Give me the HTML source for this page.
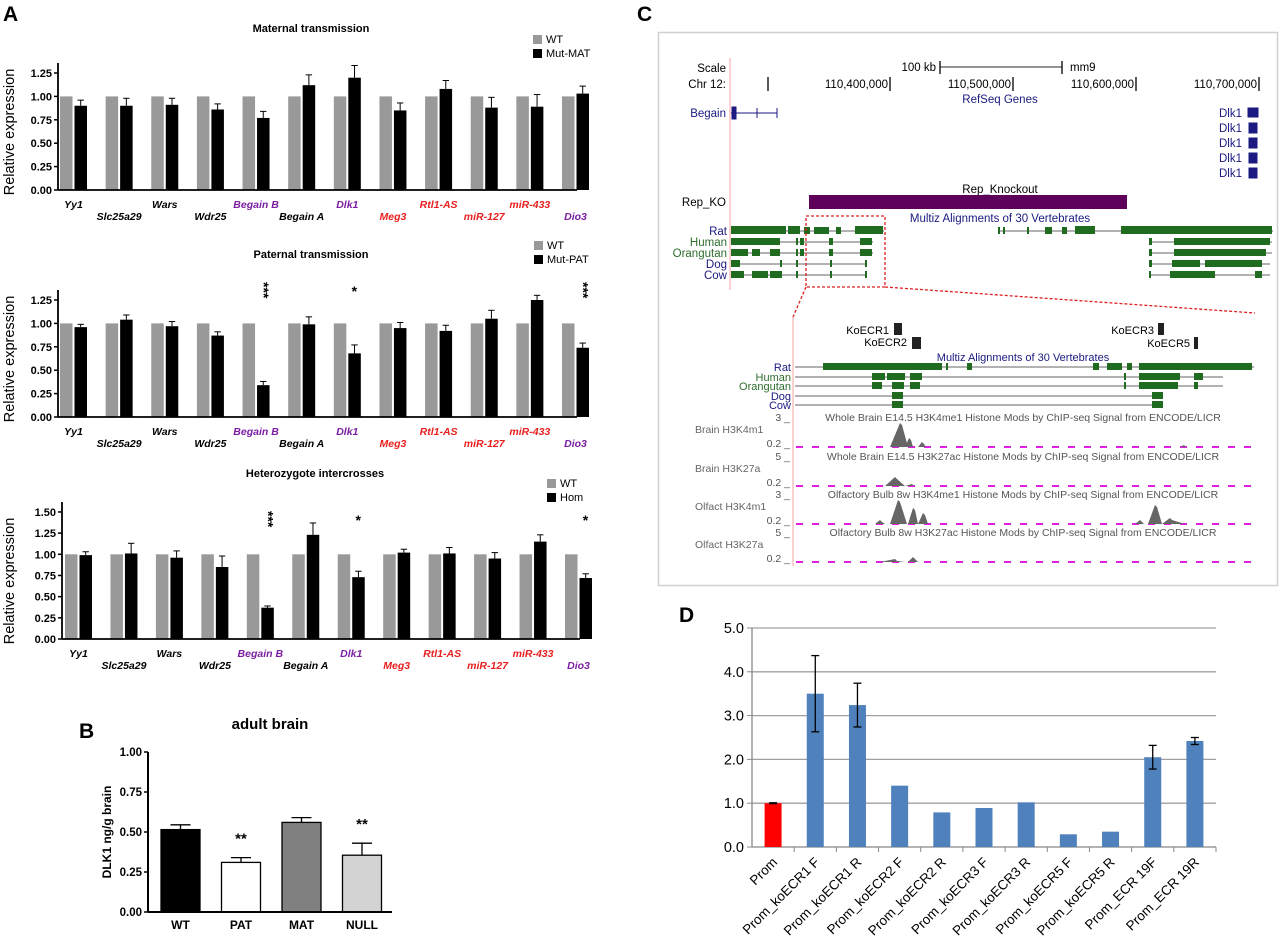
<!DOCTYPE html>
<html><head><meta charset="utf-8"><style>
html,body{margin:0;padding:0;background:#fff;}
svg{display:block;font-family:"Liberation Sans",Arial,sans-serif;}
</style></head><body>
<svg id="fig" width="1280" height="945" viewBox="0 0 1280 945" xmlns="http://www.w3.org/2000/svg">
<g font-weight="bold" font-size="21">
<text x="3" y="21">A</text>
<text x="637" y="21">C</text>
<text x="79" y="738">B</text>
<text x="679" y="622">D</text>
</g>
<g id="panelA"></g>
<g id="panelB"></g>
<g id="panelC">
<rect x="658.5" y="32.5" width="619" height="553" fill="#fff" stroke="#d0d0d0" stroke-width="1.5"/>
<line x1="730" y1="58" x2="730" y2="290" stroke="#f4a0a0"/>
<line x1="793" y1="317" x2="793" y2="566" stroke="#f4a0a0"/>
<g font-size="11.5" fill="#000">
<text x="726" y="72" text-anchor="end">Scale</text>
<text x="726" y="88" text-anchor="end">Chr 12:</text>
<text x="936" y="71" text-anchor="end">100 kb</text>
<text x="1070" y="71">mm9</text>
<text x="888" y="88" text-anchor="end">110,400,000</text>
<text x="1011" y="88" text-anchor="end">110,500,000</text>
<text x="1134" y="88" text-anchor="end">110,600,000</text>
<text x="1257" y="88" text-anchor="end">110,700,000</text>
</g>
<g stroke="#000" stroke-width="1.3">
<line x1="940" y1="67" x2="1062" y2="67" stroke="#555"/><line x1="940" y1="61" x2="940" y2="74"/><line x1="1062" y1="61" x2="1062" y2="74"/>
<line x1="768" y1="77" x2="768" y2="91"/><line x1="890" y1="77" x2="890" y2="91"/><line x1="1013" y1="77" x2="1013" y2="91"/><line x1="1136" y1="77" x2="1136" y2="91"/><line x1="1259" y1="77" x2="1259" y2="91"/>
</g>
<g font-size="11.5" fill="#1a1a80">
<text x="1000" y="103" text-anchor="middle">RefSeq Genes</text>
<text x="726" y="117" text-anchor="end">Begain</text>
<text x="1242" y="117" text-anchor="end">Dlk1</text>
<text x="1242" y="132" text-anchor="end">Dlk1</text>
<text x="1242" y="147" text-anchor="end">Dlk1</text>
<text x="1242" y="162" text-anchor="end">Dlk1</text>
<text x="1242" y="177" text-anchor="end">Dlk1</text>
<text x="1000" y="222" text-anchor="middle">Multiz Alignments of 30 Vertebrates</text>
</g>
<g fill="#1a1a80" stroke="#1a1a80">
<line x1="731" y1="113" x2="777" y2="113"/><rect x="732" y="107" width="4" height="12"/><line x1="757" y1="108" x2="757" y2="118"/><line x1="777" y1="108" x2="777" y2="118"/>
<rect x="1248" y="108" width="10" height="9"/><rect x="1249" y="123" width="8" height="10"/><rect x="1249" y="138" width="8" height="10"/><rect x="1249" y="153" width="8" height="10"/><rect x="1249" y="168" width="8" height="10"/>
</g>
<text x="1000" y="193" text-anchor="middle" font-size="11.5">Rep_Knockout</text>
<text x="726" y="206" text-anchor="end" font-size="11.5">Rep_KO</text>
<rect x="809" y="195" width="318" height="14" fill="#5c005c"/>
<g id="alignTop"></g>
<rect x="806" y="216" width="79" height="71" fill="none" stroke="#e02020" stroke-dasharray="3,2" stroke-width="1.3"/>
<line x1="806" y1="287" x2="793" y2="317" stroke="#e02020" stroke-dasharray="3,2" stroke-width="1.3"/>
<line x1="885" y1="287" x2="1255" y2="313" stroke="#e02020" stroke-dasharray="3,2" stroke-width="1.3"/>
<g font-size="11" fill="#000">
<text x="889" y="334" text-anchor="end">KoECR1</text>
<text x="907" y="346" text-anchor="end">KoECR2</text>
<text x="1154" y="334" text-anchor="end">KoECR3</text>
<text x="1190" y="347" text-anchor="end">KoECR5</text>
</g>
<g fill="#222">
<rect x="894" y="323" width="8" height="12"/><rect x="912" y="337" width="9" height="12"/><rect x="1158" y="323" width="6" height="12"/><rect x="1194" y="337" width="4" height="12"/>
</g>
<text x="1023" y="361" text-anchor="middle" font-size="11" fill="#1a1a80">Multiz Alignments of 30 Vertebrates</text>
<g id="alignZoom"></g>
<g id="histone"></g>
</g>
<g id="panelD"></g>
</svg>
<script>
var NS='http://www.w3.org/2000/svg';
function mk(p,tag,at,txt){var e=document.createElementNS(NS,tag);for(var k in at)e.setAttribute(k,at[k]);if(txt!==undefined)e.textContent=txt;p.appendChild(e);return e;}

// ===== Panel A data =====
var genes=['Yy1','Slc25a29','Wars','Wdr25','Begain B','Begain A','Dlk1','Meg3','Rtl1-AS','miR-127','miR-433','Dio3'];
var geneColors=['#000','#000','#000','#000','#7b1fa2','#000','#7b1fa2','#e8201f','#e8201f','#e8201f','#e8201f','#7b1fa2'];
var wtValues=[1,1,1,1,1,1,1,1,1,1,1,1];
var matValues=[0.90,0.90,0.91,0.86,0.77,1.12,1.20,0.85,1.08,0.88,0.89,1.03];
var matErr=[0.06,0.08,0.07,0.06,0.07,0.11,0.13,0.08,0.09,0.11,0.13,0.08];
var patValues=[0.96,1.04,0.97,0.87,0.34,0.99,0.68,0.95,0.92,1.05,1.25,0.74];
var patErr=[0.03,0.05,0.05,0.04,0.04,0.08,0.09,0.06,0.06,0.09,0.05,0.05];
var patStars=['','','','','***','','*','','','','','***'];
var homValues=[0.99,1.01,0.96,0.85,0.37,1.23,0.73,1.02,1.01,0.95,1.15,0.72];
var homErr=[0.04,0.12,0.08,0.13,0.02,0.14,0.07,0.04,0.07,0.07,0.08,0.05];
var homStars=['','','','','***','','*','','','','','*'];
var ticksA=[0,0.25,0.5,0.75,1.0,1.25];
var ticksA3=[0,0.25,0.5,0.75,1.0,1.25,1.5];

function drawA(c){
  var g=mk(document.getElementById('panelA'),'g',{});
  
  
  var y=function(v){return c.base-v*c.unit;};
  var pitch=(c.xEnd-c.x0)/11;
  mk(g,'text',{x:c.titleX,y:c.titleY,'text-anchor':'middle','font-size':11,'font-weight':'bold'},c.title);
  // legend
  var lg=mk(g,'g',{});
  
  
  mk(lg,'rect',{x:c.legX,y:c.legY-8,width:9,height:9,fill:'#999'});
  mk(lg,'text',{x:c.legX+13,y:c.legY,'font-size':11},'WT');
  mk(lg,'rect',{x:c.legX,y:c.legY+6,width:9,height:9,fill:'#000'});
  mk(lg,'text',{x:c.legX+13,y:c.legY+14,'font-size':11},c.mutName);
  // bars
  for(var i=0;i<genes.length;i++){
    var x=c.x0+i*pitch;
    var b=mk(g,'rect',{x:x,y:y(wtValues[i]),width:12.5,height:c.base-y(wtValues[i]),fill:'#999'});
    
    
    var m=c.vals[i], e=c.errs[i];
    var xm=x+14.5;
    mk(g,'line',{x1:xm+6.2,y1:y(m),x2:xm+6.2,y2:y(m+e),stroke:'#000','stroke-width':1});
    mk(g,'line',{x1:xm+3,y1:y(m+e),x2:xm+9.4,y2:y(m+e),stroke:'#000','stroke-width':1});
    var b2=mk(g,'rect',{x:xm,y:y(m),width:12.5,height:c.base-y(m),fill:'#000'});
    
    
    if(c.stars&&c.stars[i]){
      var s=c.stars[i];
      if(s.length===3){
        var t=mk(g,'text',{x:0,y:0,'font-size':14,'font-weight':'bold',transform:'translate('+(xm+2)+','+(c.starY-10)+') rotate(90)'},s);
      } else mk(g,'text',{x:xm+6,y:c.starY+4,'font-size':14,'font-weight':'bold','text-anchor':'middle'},s);
    }
    var lt=mk(g,'text',{x:x+13.5,y:c.base+(i%2===0?18:30),'text-anchor':'middle','font-size':10.5,'font-weight':'bold','font-style':'italic',fill:geneColors[i]},genes[i]);
    
    
  }
  // axes
  var top=y(c.ticks[c.ticks.length-1])-10;
  mk(g,'line',{x1:c.axisX,y1:top,x2:c.axisX,y2:c.base,stroke:'#000','stroke-width':1.8});
  mk(g,'line',{x1:c.axisX,y1:c.base,x2:c.xEnd+15,y2:c.base,stroke:'#000','stroke-width':1.8});
  for(var k=0;k<c.ticks.length;k++){
    var ty=y(c.ticks[k]);
    mk(g,'line',{x1:c.axisX-4,y1:ty,x2:c.axisX,y2:ty,stroke:'#000','stroke-width':1.5});
    mk(g,'text',{x:c.axisX-6,y:ty+4,'text-anchor':'end','font-size':11,'font-weight':'bold'},c.ticks[k].toFixed(2));
  }
  var yt=mk(g,'text',{x:0,y:0,'text-anchor':'middle','font-size':14.5,transform:'translate(14,'+(c.base-58)+') rotate(-90)'},'Relative expression');
  
  
}
drawA({name:'chart-maternal-transmission',title:'Maternal transmission',titleX:311,titleY:32,legX:533,legY:43,mutName:'Mut-MAT',axisX:58,base:190,unit:93.6,x0:60,xEnd:562,vals:matValues,errs:matErr,ticks:ticksA});
drawA({name:'chart-paternal-transmission',title:'Paternal transmission',titleX:311,titleY:258,legX:534,legY:249,mutName:'Mut-PAT',axisX:58,base:417,unit:93.6,x0:60,xEnd:562,vals:patValues,errs:patErr,ticks:ticksA,stars:patStars,starY:292});
drawA({name:'chart-heterozygote-intercrosses',title:'Heterozygote intercrosses',titleX:315,titleY:477,legX:547,legY:487,mutName:'Hom',axisX:62,base:639,unit:84.7,x0:65,xEnd:565,vals:homValues,errs:homErr,ticks:ticksA3,stars:homStars,starY:521});

// ===== Panel B =====
var bCats=['WT','PAT','MAT','NULL'];
var bValues=[0.515,0.31,0.56,0.355];
var bErr=[0.03,0.03,0.03,0.075];
var bFills=['#000','#fff','#808080','#d3d3d3'];
var bStars=['','**','','**'];
var bTicks=[0,0.25,0.5,0.75,1.0];
(function(){
  var g=document.getElementById('panelB');
  var base=912,unit=160,ax=148;
  var y=function(v){return base-v*unit;};
  mk(g,'text',{x:270,y:729,'text-anchor':'middle','font-size':15,'font-weight':'bold'},'adult brain');
  for(var i=0;i<bCats.length;i++){
    var cx=180.5+i*60.5;
    var v=bValues[i],e=bErr[i];
    mk(g,'line',{x1:cx,y1:y(v),x2:cx,y2:y(v+e),stroke:'#000','stroke-width':1.3});
    mk(g,'line',{x1:cx-10,y1:y(v+e),x2:cx+10,y2:y(v+e),stroke:'#000','stroke-width':1.3});
    var r=mk(g,'rect',{x:cx-19.5,y:y(v),width:39,height:base-y(v),fill:bFills[i],stroke:'#000','stroke-width':1.3});
    
    
    if(bStars[i]) mk(g,'text',{x:cx,y:y(v+e)-14,'text-anchor':'middle','font-size':15,'font-weight':'bold'},bStars[i]);
    mk(g,'text',{x:cx,y:base+17,'text-anchor':'middle','font-size':12,'font-weight':'bold'},bCats[i]);
  }
  mk(g,'line',{x1:ax,y1:y(1),x2:ax,y2:base,stroke:'#000','stroke-width':2});
  mk(g,'line',{x1:ax,y1:base,x2:392,y2:base,stroke:'#000','stroke-width':2});
  for(var k=0;k<bTicks.length;k++){
    var ty=y(bTicks[k]);
    mk(g,'line',{x1:ax-4,y1:ty,x2:ax,y2:ty,stroke:'#000','stroke-width':1.5});
    mk(g,'text',{x:ax-6,y:ty+4,'text-anchor':'end','font-size':11.5,'font-weight':'bold'},bTicks[k].toFixed(2));
  }
  var t=mk(g,'text',{x:0,y:0,'text-anchor':'middle','font-size':12,'font-weight':'bold',transform:'translate(111,832) rotate(-90)'},'DLK1 ng/g brain');
  
  
})();

// ===== Panel D =====
var dCats=['Prom','Prom_koECR1 F','Prom_koECR1 R','Prom_koECR2 F','Prom_koECR2 R','Prom_koECR3 F','Prom_koECR3 R','Prom_koECR5 F','Prom_koECR5 R','Prom_ECR 19F','Prom_ECR 19R'];
var dValues=[1.0,3.5,3.24,1.4,0.79,0.89,1.02,0.29,0.35,2.05,2.42];
var dErr=[0.01,0.87,0.5,0,0,0,0,0,0,0.27,0.08];
var dTicks=[0,1,2,3,4,5];
(function(){
  var g=document.getElementById('panelD');
  var base=847,top=628,ax=752,xr=1216;
  var unit=(base-top)/5;
  var y=function(v){return base-v*unit;};
  var pw=(xr-ax)/dCats.length;
  for(var k=0;k<dTicks.length;k++){
    var ty=y(dTicks[k]);
    if(k>0) mk(g,'line',{x1:ax,y1:ty,x2:xr,y2:ty,stroke:'#a0a0a0','stroke-width':1.3});
    mk(g,'text',{x:ax-8,y:ty+5,'text-anchor':'end','font-size':14.5},dTicks[k].toFixed(1));
    mk(g,'line',{x1:ax-5,y1:ty,x2:ax,y2:ty,stroke:'#888'});
  }
  mk(g,'line',{x1:ax,y1:top,x2:ax,y2:base,stroke:'#888','stroke-width':1.3});
  mk(g,'line',{x1:ax,y1:base,x2:xr,y2:base,stroke:'#888','stroke-width':1.3});
  for(var i=0;i<dCats.length;i++){
    var cx=ax+pw*(i+0.5);
    mk(g,'line',{x1:ax+pw*(i+1),y1:base,x2:ax+pw*(i+1),y2:base+5,stroke:'#888'});
    var r=mk(g,'rect',{x:cx-8.5,y:y(dValues[i]),width:17,height:base-y(dValues[i]),fill:i===0?'#ff0000':'#4f81bd'});
    
    
    if(dErr[i]>0){
      var a=y(dValues[i]+dErr[i]),b=y(dValues[i]-dErr[i]);
      mk(g,'line',{x1:cx,y1:a,x2:cx,y2:b,stroke:'#000','stroke-width':1.3});
      mk(g,'line',{x1:cx-4,y1:a,x2:cx+4,y2:a,stroke:'#000','stroke-width':1.3});
      mk(g,'line',{x1:cx-4,y1:b,x2:cx+4,y2:b,stroke:'#000','stroke-width':1.3});
    }
    var t=mk(g,'text',{x:0,y:0,'text-anchor':'end','font-size':13.5,transform:'translate('+(cx+5)+','+(base+16)+') rotate(-45)'},dCats[i]);
    
    
  }
})();

// ===== Panel C alignment tracks (decorative) =====
function alignRows(id,rows,labelX,fs){
  var g=document.getElementById(id);
  rows.forEach(function(r){
    mk(g,'text',{x:labelX,y:r.y+4,'text-anchor':'end','font-size':fs,fill:r.c},r.n);
    r.lines.forEach(function(l){mk(g,'line',{x1:l[0],y1:r.y,x2:l[1],y2:r.y,stroke:'#999','stroke-width':1.5});});
    r.blocks.forEach(function(b){mk(g,'rect',{x:b[0],y:r.y-(b[2]||4),width:b[1]-b[0],height:(b[2]||4)+3,fill:'#1f6b1f'});});
  });
}
var navy='#1a1a80',green='#2e6e2e';
alignRows('alignTop',[
 {n:'Rat',y:231,c:navy,lines:[[731,884],[998,1273]],blocks:[[731,786,5],[788,800,5],[804,810],[814,829],[836,841],[855,883,5],[998,1000],[1003,1005],[1027,1029],[1045,1052],[1062,1067],[1075,1095,5],[1121,1272,5]]},
 {n:'Human',y:242,c:green,lines:[[731,873],[1149,1272]],blocks:[[731,780],[796,798],[800,804],[829,833],[860,872],[1149,1152],[1174,1270]]},
 {n:'Orangutan',y:253,c:green,lines:[[731,873],[1149,1272]],blocks:[[731,748],[752,760],[770,780],[796,798],[800,804],[829,833],[860,872],[1149,1152],[1174,1266]]},
 {n:'Dog',y:264,c:navy,lines:[[731,866],[1149,1270]],blocks:[[731,740],[780,782],[796,798],[830,832],[865,867],[1149,1152],[1172,1200],[1205,1262]]},
 {n:'Cow',y:275,c:navy,lines:[[731,866],[1149,1270]],blocks:[[731,744],[752,768],[770,782],[796,798],[830,832],[865,867],[1149,1151],[1170,1215],[1255,1262]]}
],727,11.5);
alignRows('alignZoom',[
 {n:'Rat',y:367,c:navy,lines:[[795,1254]],blocks:[[823,942,4],[946,948],[967,972],[1093,1099],[1107,1122],[1127,1132],[1139,1252,4]]},
 {n:'Human',y:377,c:green,lines:[[795,1223]],blocks:[[872,885],[887,905],[910,922],[1124,1126],[1139,1180],[1194,1203]]},
 {n:'Orangutan',y:386,c:green,lines:[[795,1223]],blocks:[[872,882],[892,904],[910,920],[1124,1126],[1139,1178],[1194,1198]]},
 {n:'Dog',y:396,c:navy,lines:[[795,1163]],blocks:[[892,903],[1152,1163]]},
 {n:'Cow',y:405,c:navy,lines:[[795,1163]],blocks:[[892,903],[1152,1163]]}
],791,11);
(function(){
  var g=document.getElementById('histone');
  var tracks=[
   {t:'Whole Brain E14.5 H3K4me1 Histone Mods by ChIP-seq Signal from ENCODE/LICR',lab:'Brain H3K4m1',max:'3',y0:417,peaks:[[890,900,908,24],[905,909,913,9],[918,922,926,5],[1180,1184,1188,2]]},
   {t:'Whole Brain E14.5 H3K27ac Histone Mods by ChIP-seq Signal from ENCODE/LICR',lab:'Brain H3K27a',max:'5',y0:456,peaks:[[885,895,905,9],[905,912,925,2]]},
   {t:'Olfactory Bulb 8w H3K4me1 Histone Mods by ChIP-seq Signal from ENCODE/LICR',lab:'Olfact H3K4m1',max:'3',y0:494,peaks:[[890,898,907,24],[908,913,918,16],[918,923,928,11],[875,880,885,4],[1148,1155,1162,19],[1162,1170,1185,6],[1135,1140,1144,4]]},
   {t:'Olfactory Bulb 8w H3K27ac Histone Mods by ChIP-seq Signal from ENCODE/LICR',lab:'Olfact H3K27a',max:'5',y0:532,peaks:[[880,895,905,3],[908,913,918,5]]}
  ];
  tracks.forEach(function(tr){
    var gt=mk(g,'g',{});
    
    
    mk(gt,'text',{x:1023,y:tr.y0+4,'text-anchor':'middle','font-size':10.5,fill:'#555'},tr.t);
    mk(gt,'text',{x:790,y:tr.y0+4,'text-anchor':'end','font-size':10.5,fill:'#555'},tr.max+' _');
    mk(gt,'text',{x:695,y:tr.y0+16,'font-size':10.5,fill:'#666'},tr.lab);
    mk(gt,'text',{x:790,y:tr.y0+30,'text-anchor':'end','font-size':10.5,fill:'#555'},'0.2 _');
    var by=tr.y0+30;
    mk(gt,'line',{x1:796,y1:by,x2:1255,y2:by,stroke:'#e020e0','stroke-width':2,'stroke-dasharray':'7,9'});
    tr.peaks.forEach(function(p){mk(gt,'polygon',{points:p[0]+','+by+' '+p[1]+','+(by-p[3])+' '+(p[1]+2)+','+(by-p[3]+2)+' '+p[2]+','+by,fill:'#666'});});
  });
})();
</script>
</body></html>
